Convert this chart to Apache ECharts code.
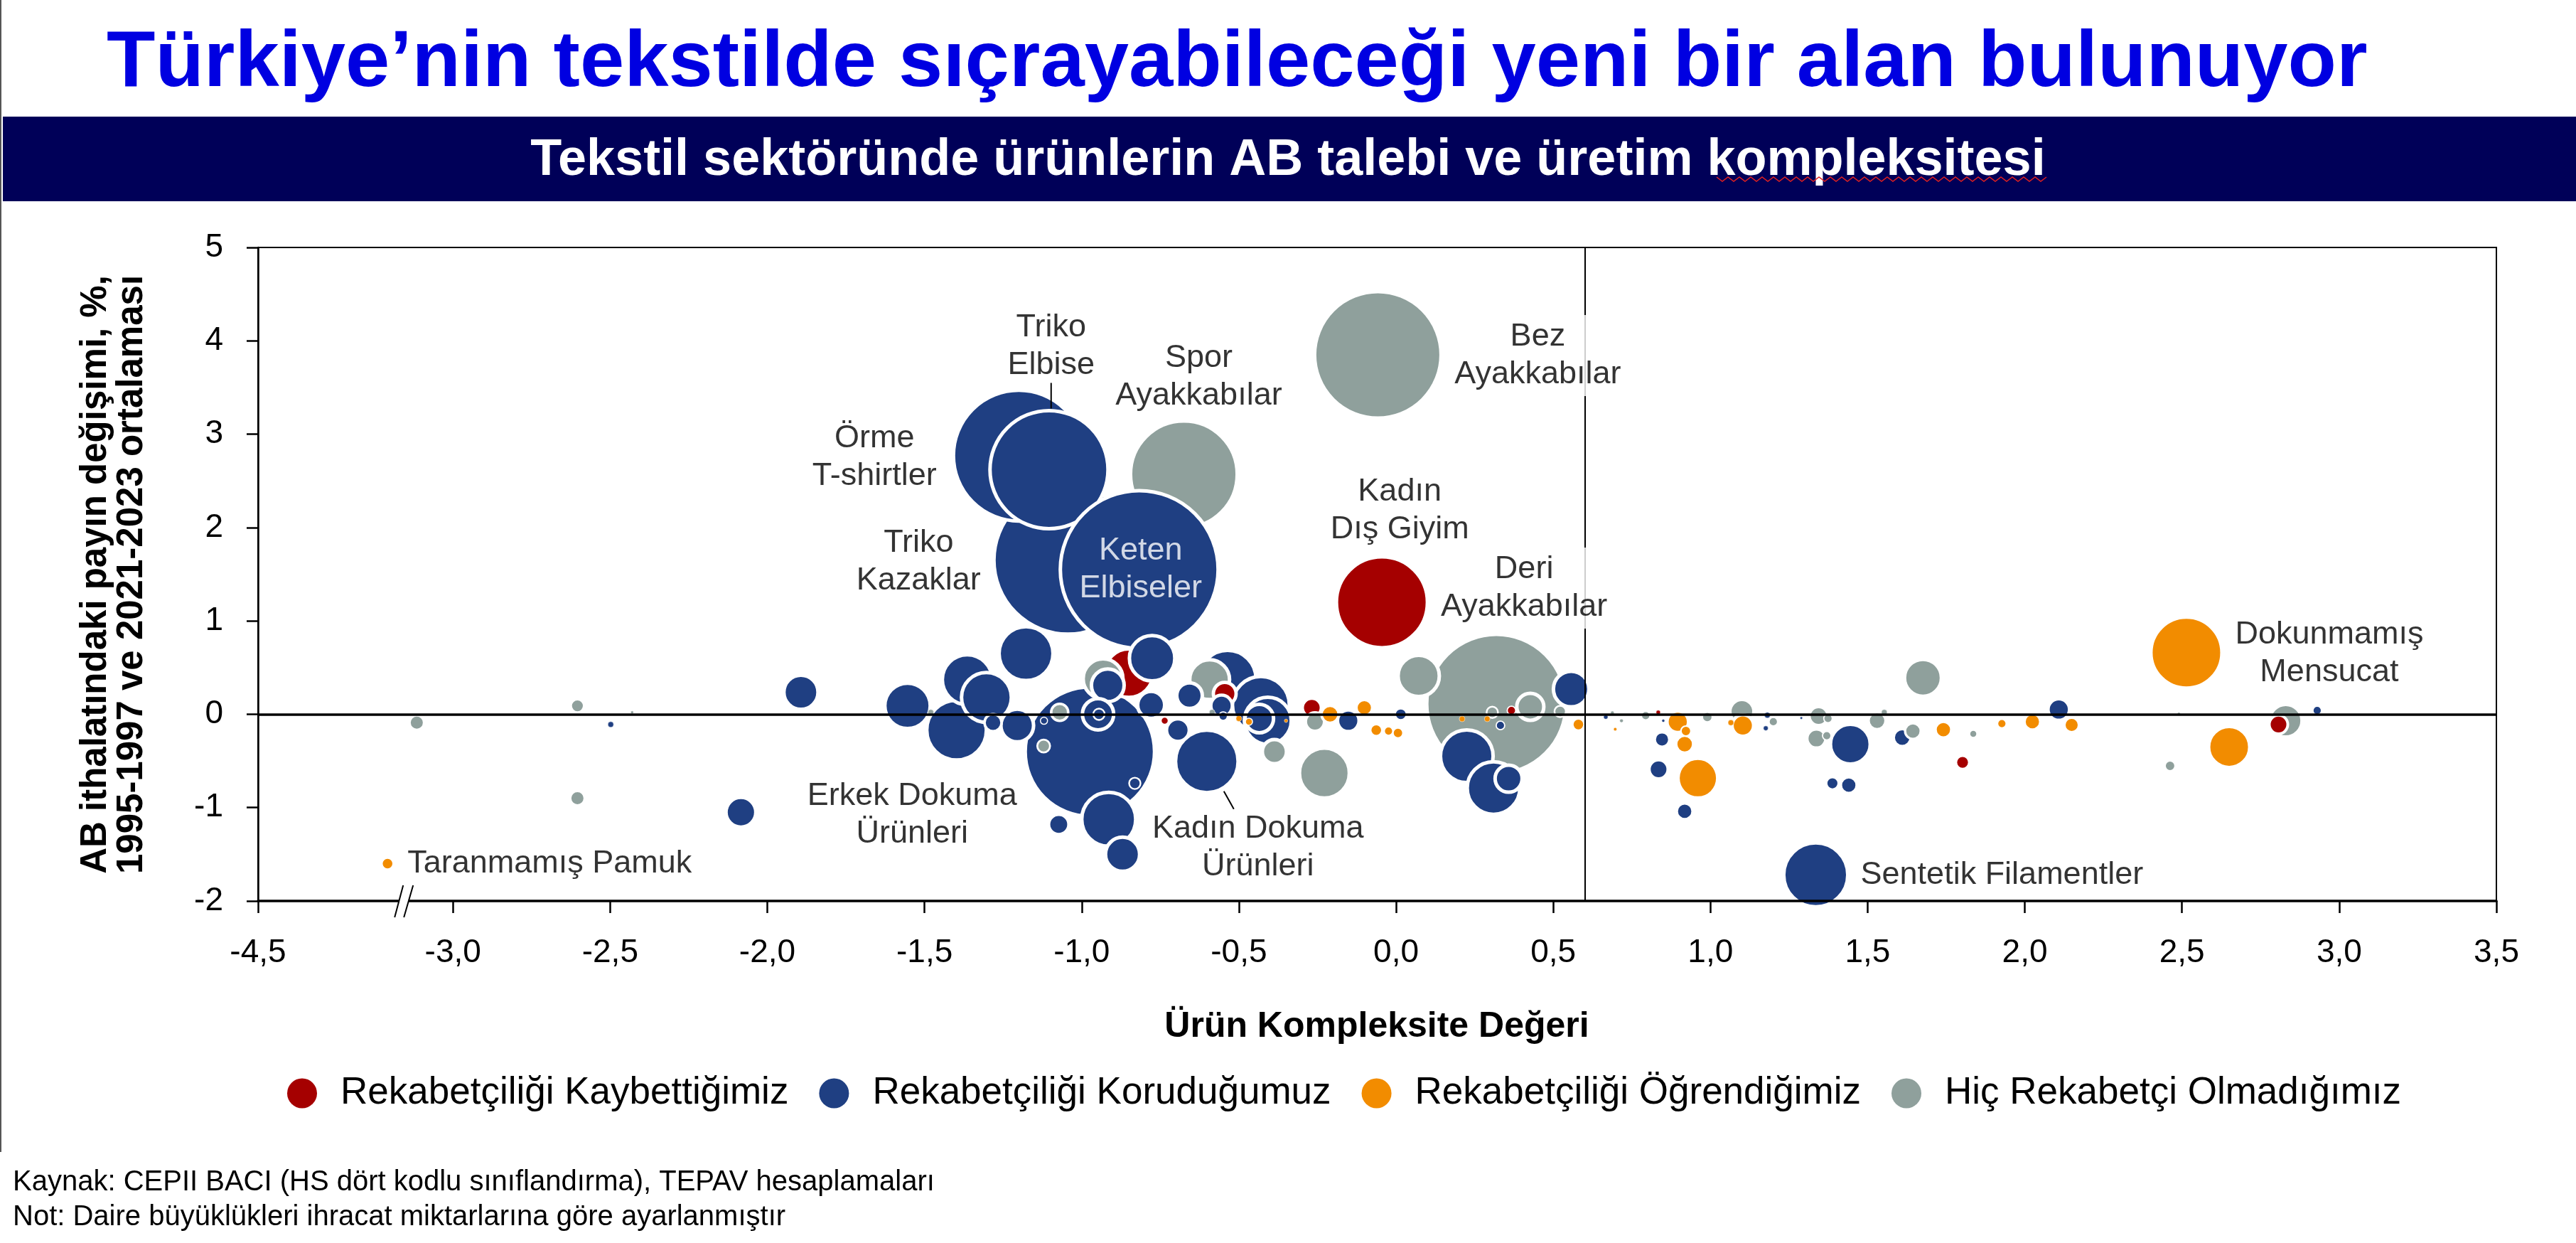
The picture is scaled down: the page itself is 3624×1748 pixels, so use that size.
<!DOCTYPE html>
<html><head><meta charset="utf-8">
<script src="https://cdn.jsdelivr.net/npm/echarts@6/dist/echarts.min.js"></script>
<style>html,body{margin:0;padding:0;background:#fff}#c{width:3624px;height:1748px}</style>
</head><body><div id="c"></div>
<script>
const FONT = '"Liberation Sans", Arial, sans-serif';
const seriesNames = ['Rekabetçiliği Kaybettiğimiz','Rekabetçiliği Koruduğumuz','Rekabetçiliği Öğrendiğimiz','Hiç Rekabetçi Olmadığımız'];
const colors = ['#A50000','#1F3F82','#F28C00','#8FA09C'];

// [product complexity (axis broken below -3,0), change in EU import share %, export volume index, name]
const lostData = [
  [-0.045, 1.20, 40.96, 'Kadın Dış Giyim'],
  [-0.85, 0.44, 11.6], [-0.545, 0.22, 2.56], [-0.268, 0.07, 1.69], [-0.736, -0.07, 0.25],
  [0.367, 0.04, 0.36], [0.834, 0.02, 0.09], [1.802, -0.515, 0.81], [2.807, -0.11, 1.69]
];
const keptData = [
  [-1.20, 2.77, 84.6, 'Örme T-shirtler'],
  [-1.104, 2.62, 68.9, 'Triko Elbise'],
  [-1.044, 1.65, 108.2, 'Triko Kazaklar'],
  [-0.817, 1.55, 123.2, 'Keten Elbiseler'],
  [-0.974, -0.40, 82.8, 'Erkek Dokuma Ürünleri'],
  [-0.602, -0.505, 19.4, 'Kadın Dokuma Ürünleri'],
  [1.335, -1.72, 20.3, 'Sentetik Filamentler'],
  [-2.498, -0.11, 0.16], [-1.893, 0.235, 5.76], [-2.084, -1.05, 4.41], [-1.554, 0.09, 10.2],
  [-1.364, 0.37, 12.3], [-1.398, -0.17, 17.6], [-1.303, 0.18, 12.3], [-1.282, -0.09, 1.44],
  [-1.177, 0.65, 14.4], [-1.205, -0.12, 5.29], [-0.948, 0.0, 4.84], [-0.945, 0.0, 0.64],
  [-1.12, -0.07, 0.25], [-0.917, 0.31, 5.29], [-0.776, 0.60, 10.2], [-0.779, 0.10, 3.61],
  [-0.831, -0.74, 0.64], [-0.914, -1.125, 14.4], [-1.073, -1.18, 1.96], [-0.87, -1.50, 5.76],
  [-0.694, -0.17, 2.56], [-0.657, 0.20, 3.24], [-0.536, 0.38, 16.0], [-0.555, 0.09, 2.25],
  [-0.55, -0.02, 0.36], [-0.43, 0.10, 16.0], [-0.408, -0.07, 10.9], [-0.435, -0.046, 4.0],
  [-0.152, -0.07, 2.25], [0.015, 0.0, 0.64], [0.557, 0.27, 6.25],
  [0.225, -0.45, 13.7], [0.31, -0.79, 13.7], [0.358, -0.69, 3.61], [0.332, -0.12, 0.36],
  [0.667, -0.03, 0.09], [0.846, -0.27, 1.0], [0.835, -0.59, 1.69], [0.918, -1.04, 1.21],
  [0.85, -0.07, 0.04], [1.181, -0.01, 0.16], [1.176, -0.15, 0.11], [1.289, -0.04, 0.03],
  [1.445, -0.32, 7.84], [1.61, -0.25, 1.44], [1.388, -0.74, 0.69], [1.44, -0.76, 1.21],
  [2.108, 0.05, 2.25], [2.93, 0.04, 0.36]
];
const learnedData = [
  [-3.208, -1.60, 0.64, 'Taranmamış Pamuk'],
  [2.514, 0.66, 25.0, 'Dokunmamış Mensucat'],
  [2.65, -0.35, 8.41], [0.96, -0.685, 7.84], [-0.21, 0.0, 1.44], [-0.101, 0.07, 1.21],
  [-0.063, -0.17, 0.64], [0.006, -0.20, 0.49], [-0.024, -0.18, 0.36], [0.58, -0.11, 0.64],
  [0.21, -0.05, 0.16], [0.29, -0.05, 0.16], [-0.468, -0.08, 0.25], [-0.50, -0.046, 0.16],
  [-0.35, -0.07, 0.06], [0.697, -0.16, 0.05], [0.896, -0.08, 2.25], [0.922, -0.18, 0.49],
  [0.918, -0.32, 1.44], [1.103, -0.12, 2.25], [1.065, -0.09, 0.16], [1.741, -0.165, 1.21],
  [1.927, -0.10, 0.36], [2.024, -0.08, 1.21], [2.149, -0.115, 1.0]
];
const neverData = [
  [-0.058, 3.85, 79.2, 'Bez Ayakkabılar'],
  [-0.675, 2.57, 56.3, 'Spor Ayakkabılar'],
  [0.319, 0.11, 96.0, 'Deri Ayakkabılar'],
  [-3.115, -0.09, 1.0], [-2.604, 0.09, 0.81], [-2.43, 0.02, 0.04], [-2.604, -0.90, 1.0],
  [-1.48, 0.02, 0.16], [-1.07, 0.02, 1.44], [-1.121, -0.34, 0.81], [-0.932, 0.38, 7.84],
  [-0.593, 0.37, 7.84], [-0.585, 0.02, 0.16], [-0.387, -0.40, 2.89], [-0.228, -0.63, 12.3],
  [-0.258, -0.08, 1.69], [0.072, 0.41, 8.41],
  [0.427, 0.08, 3.61], [0.306, 0.02, 0.64], [0.522, 0.03, 0.64], [0.688, 0.015, 0.06],
  [0.717, -0.07, 0.06], [0.794, -0.015, 0.36], [0.99, -0.03, 0.49], [1.10, 0.03, 2.89],
  [1.20, -0.08, 0.36], [1.344, -0.02, 1.69], [1.337, -0.26, 1.69], [1.374, -0.045, 0.36],
  [1.37, -0.23, 0.36], [1.53, -0.07, 1.44], [1.553, 0.02, 0.16],
  [1.644, -0.18, 1.21], [1.676, 0.39, 6.76], [1.836, -0.21, 0.25], [2.462, -0.553, 0.49],
  [2.49, 0.005, 0.04], [2.83, -0.07, 5.29]
];

// x axis: the segment left of -3,0 is compressed (broken axis)
const xTickValues = [-3.62, -3.0, -2.5, -2.0, -1.5, -1.0, -0.5, 0.0, 0.5, 1.0, 1.5, 2.0, 2.5, 3.0, 3.5];
const xTickLabels = ['-4,5','-3,0','-2,5','-2,0','-1,5','-1,0','-0,5','0,0','0,5','1,0','1,5','2,0','2,5','3,0','3,5'];
const xBreakAt = -3.156;
const thresholdX = 0.6;

// label placement (styling, px offsets from the bubble centre)
const labelCfg = {
  'Örme T-shirtler': {text:'Örme\nT-shirtler', offset:[-203, 2]},
  'Triko Elbise': {text:'Triko\nElbise', offset:[3, -173], leader:[[3, -122], [3, -86]]},
  'Triko Kazaklar': {text:'Triko\nKazaklar', offset:[-210, 2]},
  'Keten Elbiseler': {text:'Keten\nElbiseler', offset:[2, 0], color:'#fff'},
  'Spor Ayakkabılar': {text:'Spor\nAyakkabılar', offset:[21, -137]},
  'Bez Ayakkabılar': {text:'Bez\nAyakkabılar', offset:[225, 1], bg:true},
  'Kadın Dış Giyim': {text:'Kadın\nDış Giyim', offset:[25, -129]},
  'Deri Ayakkabılar': {text:'Deri\nAyakkabılar', offset:[39, -163], bg:true},
  'Erkek Dokuma Ürünleri': {text:'Erkek Dokuma\nÜrünleri', offset:[-250, 89]},
  'Kadın Dokuma Ürünleri': {text:'Kadın Dokuma\nÜrünleri', offset:[72, 121], leader:[[24, 42], [38, 67]]},
  'Sentetik Filamentler': {text:'Sentetik Filamentler', right:18},
  'Dokunmamış Mensucat': {text:'Dokunmamış\nMensucat', offset:[201, 1]},
  'Taranmamış Pamuk': {text:'Taranmamış Pamuk', right:20}
};
const drawAbove = {'Keten Elbiseler': 'Spor Ayakkabılar'};

const sizeOf = v => 20 * Math.sqrt(v);
const all = [];
[lostData, keptData, learnedData, neverData].forEach((arr, ci) =>
  arr.forEach(p => all.push({x:p[0], y:p[1], v:p[2], name:p[3] || '', ci})));
const byName = {};
all.forEach(p => { if (p.name) byName[p.name] = p; });
const key = p => drawAbove[p.name] ? byName[drawAbove[p.name]].v - 0.01 : p.v;
all.sort((a, b) => key(b) - key(a));

const bubbleData = all.map(p => {
  const r = sizeOf(p.v) / 2;
  return {value:[p.x, p.y, p.v], itemStyle:{color:colors[p.ci], borderWidth: r < 5 ? 0.5 : Math.min(5, r * 0.3)}};
});
const labelData = all.filter(p => p.name).map(p => {
  const c = labelCfg[p.name];
  const lab = {show:true, formatter:c.text, color:c.color || '#000'};
  if (c.right !== undefined) { lab.position = 'right'; lab.distance = c.right; lab.align = 'left'; }
  else { lab.position = 'inside'; lab.offset = c.offset; lab.align = 'center'; }
  if (c.bg) { lab.backgroundColor = '#fff'; lab.padding = [4, 6]; }
  return {value:[p.x, p.y, p.v], label:lab};
});

const chart = echarts.init(document.getElementById('c'), null, {renderer:'canvas', width:3624, height:1748});
const nearestLabel = v => {
  let bi = 0;
  xTickValues.forEach((t, i) => { if (Math.abs(t - v) < Math.abs(xTickValues[bi] - v)) bi = i; });
  return xTickLabels[bi];
};
const option = {
  animation:false,
  backgroundColor:'#fff',
  grid:{left:363, right:112, top:348, bottom:481, show:true, borderColor:'#000', borderWidth:2, backgroundColor:'transparent'},
  xAxis:{type:'value', min:-3.62, max:3.5, z:5,
    axisLine:{show:true, onZero:false, lineStyle:{color:'#000', width:3.5}},
    axisTick:{show:true, customValues:xTickValues, length:17, lineStyle:{color:'#000', width:2.5}},
    axisLabel:{customValues:xTickValues, formatter:nearestLabel, fontSize:46, fontFamily:FONT, color:'#000', margin:50},
    splitLine:{show:false}},
  yAxis:{type:'value', min:-2, max:5, interval:1, z:5,
    axisLine:{show:true, onZero:false, lineStyle:{color:'#000', width:2.5}},
    axisTick:{show:true, length:16, lineStyle:{color:'#000', width:2.5}},
    axisLabel:{fontSize:46, fontFamily:FONT, color:'#000', margin:49},
    splitLine:{show:false}},
  legend:{data:seriesNames, left:399, top:1506, itemWidth:42, itemHeight:42, itemGap:43, icon:'circle',
    selectedMode:false, textStyle:{fontSize:53, fontFamily:FONT, color:'#000', padding:[0,0,0,28]}},
  series:[
    ...seriesNames.map((n, i) => ({name:n, type:'scatter', data:[], itemStyle:{color:colors[i], opacity:1}})),
    {type:'scatter', z:2, data:bubbleData, symbolSize:v => sizeOf(v[2]), silent:true,
      itemStyle:{borderColor:'#fff', opacity:1}},
    {type:'scatter', z:3, data:[], silent:true,
      markLine:{silent:true, symbol:['none','none'], label:{show:false}, animation:false,
        lineStyle:{color:'#000', type:'solid'},
        data:[{yAxis:0, lineStyle:{width:3.5, color:'#000', type:'solid'}},
              {xAxis:thresholdX, lineStyle:{width:2, color:'#000', type:'solid'}}]}},
    {type:'scatter', z:10, data:labelData, symbolSize:v => sizeOf(v[2]), silent:true,
      itemStyle:{color:'rgba(0,0,0,0)', borderWidth:0},
      label:{fontSize:45, lineHeight:53, fontFamily:FONT}}
  ]
};
chart.setOption(option);

const toPx = (x, y) => chart.convertToPixel({xAxisIndex:0, yAxisIndex:0}, [x, y]);
const bp = toPx(xBreakAt, -2);
const bx = bp[0], by = bp[1];
const leaders = Object.keys(labelCfg).filter(n => labelCfg[n].leader).map(n => {
  const c = toPx(byName[n].x, byName[n].y), L = labelCfg[n].leader;
  return {type:'line', z:22, shape:{x1:c[0]+L[0][0], y1:c[1]+L[0][1], x2:c[0]+L[1][0], y2:c[1]+L[1][1]},
    style:{stroke:'#000', lineWidth:2}};
});
const squiggle = [];
for (let i = 0; i <= 58; i++) squiggle.push([2415 + i * 8, 252 + (i % 2 ? 3 : -3)]);
const txt = (t, x, y, font, fill, align, extra) => Object.assign({type:'text', x, y, z:20,
  style:{text:t, font, fill, align, verticalAlign:'middle', textAlign:align, textVerticalAlign:'middle'}}, extra || {});
chart.setOption({graphic:[
  {type:'line', z:20, shape:{x1:1, y1:0, x2:1, y2:1620}, style:{stroke:'#555', lineWidth:2}},
  {type:'rect', z:20, shape:{x:4, y:164, width:3620, height:119}, style:{fill:'#000058'}},
  txt('Türkiye’nin tekstilde sıçrayabileceği yeni bir alan bulunuyor', 150, 90, 'bold 112px ' + FONT, '#0000E1', 'left'),
  txt('Tekstil sektöründe ürünlerin AB talebi ve üretim kompleksitesi', 1812, 226, 'bold 72px ' + FONT, '#fff', 'center'),
  {type:'polyline', z:21, shape:{points:squiggle}, style:{stroke:'#e02020', lineWidth:1.5, fill:null}},
  Object.assign(txt('AB ithalatındaki payın değişimi, %,\n1995-1997 ve 2021-2023 ortalaması', 160, 808, 'bold 51px ' + FONT, '#000', 'center'), {rotation:Math.PI/2}),
  txt('Ürün Kompleksite Değeri', 1937, 1444, 'bold 50px ' + FONT, '#000', 'center'),
  txt('Kaynak: CEPII BACI (HS dört kodlu sınıflandırma), TEPAV hesaplamaları', 18, 1663, '40px ' + FONT, '#000', 'left'),
  txt('Not: Daire büyüklükleri ihracat miktarlarına göre ayarlanmıştır', 18, 1712, '40px ' + FONT, '#000', 'left'),
  {type:'polygon', z:20, shape:{points:[[bx-1, by-22],[bx+13, by-22],[bx, by+23],[bx-13, by+23]]}, style:{fill:'#fff'}},
  {type:'line', z:21, shape:{x1:bx-1, y1:by-22, x2:bx-13, y2:by+23}, style:{stroke:'#000', lineWidth:2}},
  {type:'line', z:21, shape:{x1:bx+13, y1:by-22, x2:bx, y2:by+23}, style:{stroke:'#000', lineWidth:2}},
  ...leaders
]});
</script></body></html>
